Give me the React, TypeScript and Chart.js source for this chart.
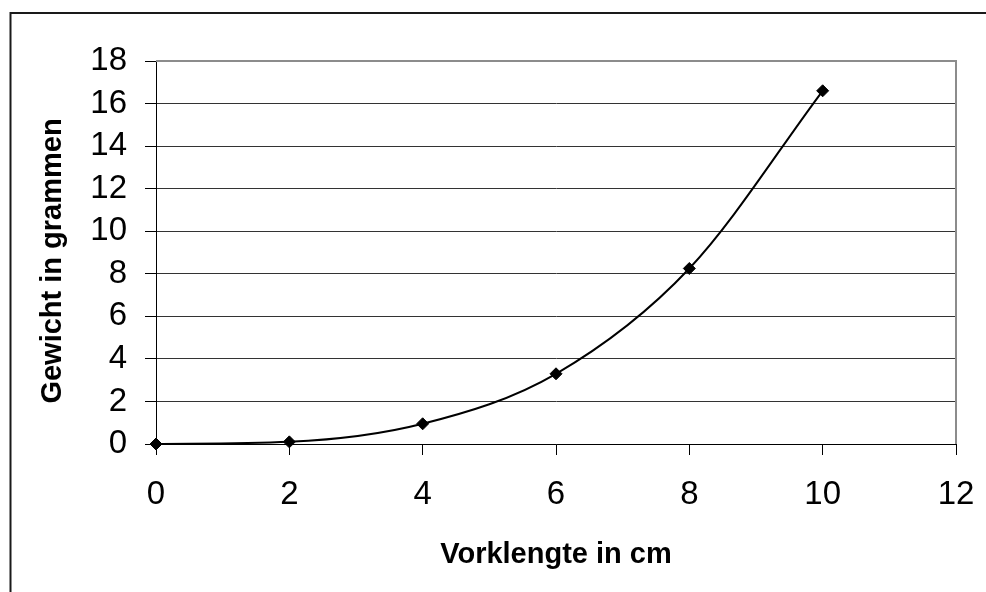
import React, { useEffect, useRef } from "react";
import { Chart, registerables } from "chart.js";

Chart.register(...registerables);

const lengthsCm = [0, 2, 4, 6, 8, 10];
const weightsGram = [0, 0.1, 0.95, 3.3, 8.25, 16.6];
const xTitle = "Vorklengte in cm";
const yTitle = "Gewicht in grammen";
const xMin = 0, xMax = 12, xStep = 2;
const yMin = 0, yMax = 18, yStep = 2;

const FONT = '"Liberation Sans", Arial, sans-serif';

const decorPlugin = {
  id: "decor",
  afterDraw(chart: any) {
    const { ctx, chartArea } = chart;
    ctx.save();
    // outer frame (left + top only visible)
    ctx.strokeStyle = "#1a1a1a";
    ctx.lineWidth = 2;
    ctx.beginPath();
    ctx.moveTo(10.5, 592);
    ctx.lineTo(10.5, 13);
    ctx.lineTo(986, 13);
    ctx.stroke();
    // plot area border (top + right) gray
    ctx.strokeStyle = "#8c8c8c";
    ctx.lineWidth = 2;
    ctx.beginPath();
    ctx.moveTo(chartArea.left, chartArea.top);
    ctx.lineTo(chartArea.right, chartArea.top);
    ctx.lineTo(chartArea.right, chartArea.bottom);
    ctx.stroke();
    // axis titles
    ctx.fillStyle = "#000";
    ctx.font = "bold 29px " + FONT;
    ctx.textAlign = "center";
    ctx.textBaseline = "alphabetic";
    ctx.fillText(xTitle, (chartArea.left + chartArea.right) / 2, 563);
    ctx.translate(61, 261);
    ctx.rotate(-Math.PI / 2);
    ctx.fillText(yTitle, 0, 0);
    ctx.restore();
  },
};

export default function App() {
  const ref = useRef<HTMLCanvasElement>(null);
  useEffect(() => {
    if (!ref.current) return;
    const chart = new Chart(ref.current, {
      type: "line",
      data: {
        datasets: [
          {
            data: lengthsCm.map((x, i) => ({ x, y: weightsGram[i] })),
            borderColor: "#000",
            backgroundColor: "#000",
            borderWidth: 2,
            cubicInterpolationMode: "monotone",
            pointStyle: "rectRot",
            pointRadius: 6,
            pointBackgroundColor: "#000",
            pointBorderColor: "#000",
            pointBorderWidth: 1,
            clip: false as any,
          } as any,
        ],
      },
      options: {
        animation: false,
        responsive: false,
        devicePixelRatio: 1,
        layout: { padding: { left: 0, top: 61, right: 30, bottom: 0 } },
        plugins: { legend: { display: false }, tooltip: { enabled: false } },
        scales: {
          x: {
            type: "linear",
            min: xMin,
            max: xMax,
            afterFit: (s: any) => {
              s.height = 148;
              s.paddingLeft = 0;
              s.paddingRight = 0;
            },
            ticks: {
              stepSize: xStep,
              autoSkip: false,
              maxRotation: 0,
              color: "#000",
              padding: 20,
              font: { family: FONT, size: 33 },
            },
            grid: { drawOnChartArea: false, drawTicks: true, tickLength: 11, color: "#000", lineWidth: 1 },
            border: { display: true, color: "#000", width: 1 },
          },
          y: {
            type: "linear",
            min: yMin,
            max: yMax,
            afterFit: (s: any) => {
              s.width = 156;
              s.paddingTop = 0;
              s.paddingBottom = 0;
            },
            ticks: {
              stepSize: yStep,
              autoSkip: false,
              color: "#000",
              padding: 18,
              font: { family: FONT, size: 33 },
            },
            grid: {
              drawOnChartArea: true,
              drawTicks: true,
              tickLength: 11,
              color: "#333",
              tickColor: "#000",
              lineWidth: 1,
            },
            border: { display: true, color: "#000", width: 1 },
          },
        },
      },
      plugins: [decorPlugin],
    });
    return () => chart.destroy();
  }, []);
  return (
    <div style={{ position: "absolute", left: 0, top: 0, width: 986, height: 592, background: "#fff" }}>
      <canvas ref={ref} width={986} height={592} style={{ display: "block" }} />
    </div>
  );
}
